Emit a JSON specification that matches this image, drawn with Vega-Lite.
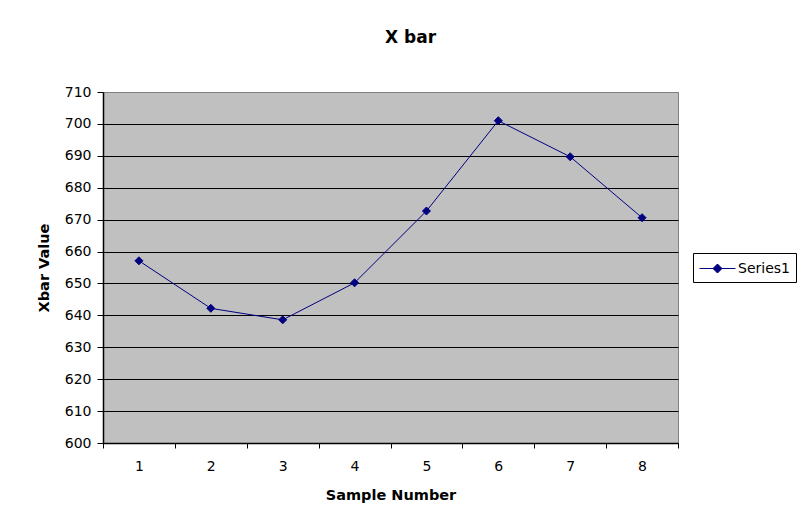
{
  "$schema": "https://vega.github.io/schema/vega-lite/v6.json",
  "autosize": {"type": "none"},
  "padding": {"left": 103, "top": 92, "right": 121, "bottom": 80},
  "width": 575,
  "height": 351,
  "background": "white",
  "title": {
    "text": "X bar",
    "font": "DejaVu Sans",
    "fontSize": 17,
    "fontWeight": "bold",
    "color": "black",
    "anchor": "middle",
    "dx": 20,
    "offset": 38
  },
  "config": {
    "view": {"fill": "#C0C0C0", "stroke": "#808080", "strokeWidth": 1},
    "axis": {
      "labelFont": "DejaVu Sans",
      "labelFontSize": 14,
      "labelColor": "black",
      "titleFont": "DejaVu Sans",
      "titleFontSize": 14.5,
      "titleFontWeight": "bold",
      "titleColor": "black",
      "domainColor": "black",
      "tickColor": "black"
    }
  },
  "data": {
    "values": [
      {"sample": "1", "xbar": 657.1, "series": "Series1"},
      {"sample": "2", "xbar": 642.2, "series": "Series1"},
      {"sample": "3", "xbar": 638.6, "series": "Series1"},
      {"sample": "4", "xbar": 650.2, "series": "Series1"},
      {"sample": "5", "xbar": 672.7, "series": "Series1"},
      {"sample": "6", "xbar": 701.0, "series": "Series1"},
      {"sample": "7", "xbar": 689.7, "series": "Series1"},
      {"sample": "8", "xbar": 670.6, "series": "Series1"}
    ]
  },
  "mark": {
    "type": "line",
    "strokeWidth": 1,
    "point": {"shape": "diamond", "size": 64, "filled": true, "fill": "#000080", "stroke": "#000080", "strokeWidth": 1}
  },
  "encoding": {
    "x": {
      "field": "sample",
      "type": "ordinal",
      "bandPosition": 0.5,
      "scale": {"type": "band", "paddingInner": 0, "paddingOuter": 0},
      "axis": {
        "title": "Sample Number",
        "labelAngle": 0,
        "tickBand": "extent",
        "tickSize": 5,
        "labelPadding": 11,
        "titlePadding": 15,
        "grid": false,
        "domainWidth": 1.5
      }
    },
    "y": {
      "field": "xbar",
      "type": "quantitative",
      "scale": {"domain": [600, 710], "nice": false, "zero": false},
      "axis": {
        "title": "Xbar Value",
        "values": [600, 610, 620, 630, 640, 650, 660, 670, 680, 690, 700, 710],
        "grid": true,
        "gridColor": {"condition": {"test": "datum.value >= 710", "value": "#808080"}, "value": "black"},
        "gridWidth": 1,
        "gridOpacity": 1,
        "tickSize": 6,
        "labelPadding": 6,
        "titlePadding": 13,
        "domainWidth": 1.5
      }
    },
    "color": {
      "field": "series",
      "type": "nominal",
      "scale": {"range": ["#000080"]},
      "legend": {
        "title": null,
        "orient": "none",
        "legendX": 590,
        "legendY": 161,
        "fillColor": "white",
        "strokeColor": "black",
        "padding": 6,
        "labelFont": "DejaVu Sans",
        "labelFontSize": 14,
        "labelColor": "black",
        "symbolType": "M-1,0H3M1,-0.5L1.5,0L1,0.5L0.5,0Z",
        "symbolSize": 324,
        "symbolStrokeWidth": 1,
        "labelOffset": 20,
        "encode": {
          "symbols": {"update": {"fill": {"value": "#000080"}, "stroke": {"value": "#000080"}, "strokeWidth": {"value": 1}}}
        }
      }
    }
  }
}
